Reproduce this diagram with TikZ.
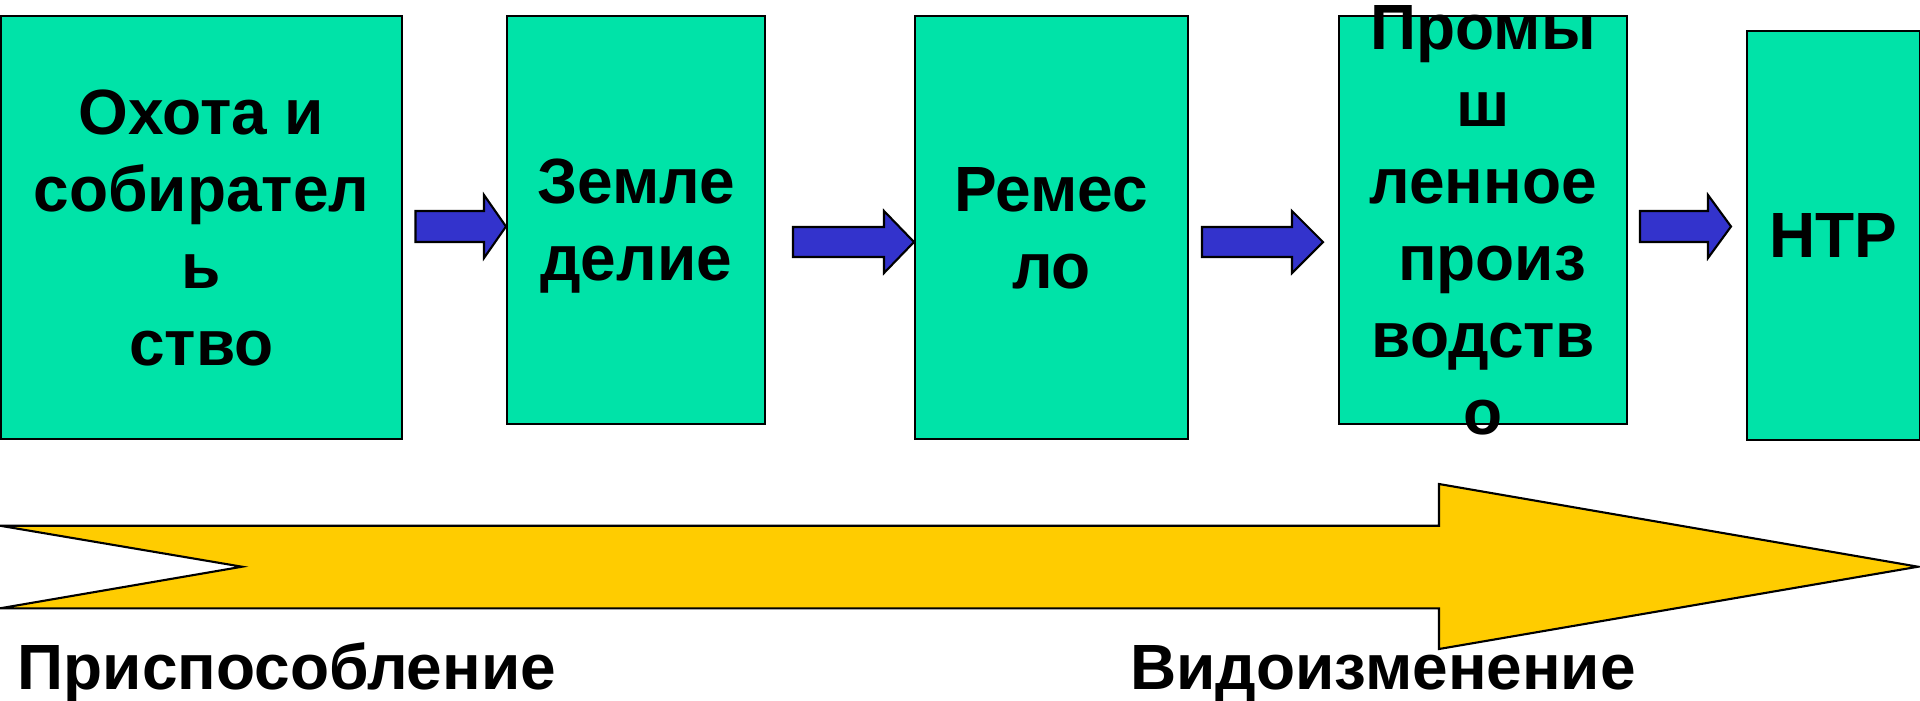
\documentclass[tikz,border=0pt]{standalone}
\usepackage{fontspec}
\setmainfont{Liberation Sans}
\usepackage{tikz}

\definecolor{stagegreen}{RGB}{0,227,168}
\definecolor{arrowblue}{RGB}{51,51,204}
\definecolor{trendyellow}{RGB}{255,204,0}

% tail x, head base x, tip x, mid y, half shaft, half head
\newcommand{\blockarr}[6]{%
  \draw[fill=arrowblue, draw=black, line width=0.6pt] (#1,#4+#5) -- (#2,#4+#5) -- (#2,#4+#6) -- (#3,#4) -- (#2,#4-#6) -- (#2,#4-#5) -- (#1,#4-#5) -- cycle;}

\tikzset{
  stagebox/.style={draw=black, fill=stagegreen, line width=0.6pt, inner sep=0pt, anchor=north west},
  stagetext/.style={align=center, font=\bfseries\fontsize{18.2}{21.9}\selectfont, text depth=0pt, inner sep=0pt},
  trendlabel/.style={font=\bfseries\fontsize{18.2}{21.9}\selectfont, inner sep=0pt, anchor=base west}
}

\begin{document}
\begin{tikzpicture}
   \useasboundingbox (0,0) rectangle (19.2,7);

   % stages
   \node[stagebox, minimum width=4.01cm, minimum height=4.23cm] (ohota) at (0,6.85) {};
   \node[stagebox, minimum width=2.58cm, minimum height=4.08cm] (zemle) at (5.06,6.85) {};
   \node[stagebox, minimum width=2.73cm, minimum height=4.23cm] (remeslo) at (9.14,6.85) {};
   \node[stagebox, minimum width=2.88cm, minimum height=4.08cm] (prom) at (13.38,6.85) {};
   \node[stagebox, minimum width=1.73cm, minimum height=4.09cm] (ntr) at (17.46,6.70) {};

   \node[stagetext] (ohotatext) at (ohota.center) {Охота и\\собирател\\ь\\ство};
   \node[stagetext] (zemletext) at (zemle.center) {Земле\\делие};
   \node[stagetext] (remeslotext) at (remeslo.center) {Ремес\\ло};
   \node[stagetext] (promtext) at (prom.center) {Промы\\ш\\ленное\\\hspace*{0.28em}произ\\водств\\о};
   \node[stagetext] (ntrtext) at (ntr.center) {НТР};

   % blue arrows
   \blockarr{4.155}{4.84}{5.06}{4.735}{0.155}{0.315}
   \blockarr{7.93}{8.84}{9.14}{4.58}{0.15}{0.31}
   \blockarr{12.02}{12.92}{13.23}{4.58}{0.15}{0.31}
   \blockarr{16.40}{17.08}{17.31}{4.735}{0.155}{0.315}

   % yellow arrow
   \draw[fill=trendyellow, draw=black, line width=0.6pt] (0,1.743) -- (14.39,1.743) -- (14.39,2.16) -- (19.18,1.333) -- (14.39,0.51) -- (14.39,0.917) -- (0,0.917) -- (2.42,1.333) -- cycle;

   \node[trendlabel] (adapt) at (0.17,0.11) {Приспособление};
   \node[trendlabel, anchor=base] (modif) at (13.83,0.11) {Видоизменение};
\end{tikzpicture}
\end{document}
